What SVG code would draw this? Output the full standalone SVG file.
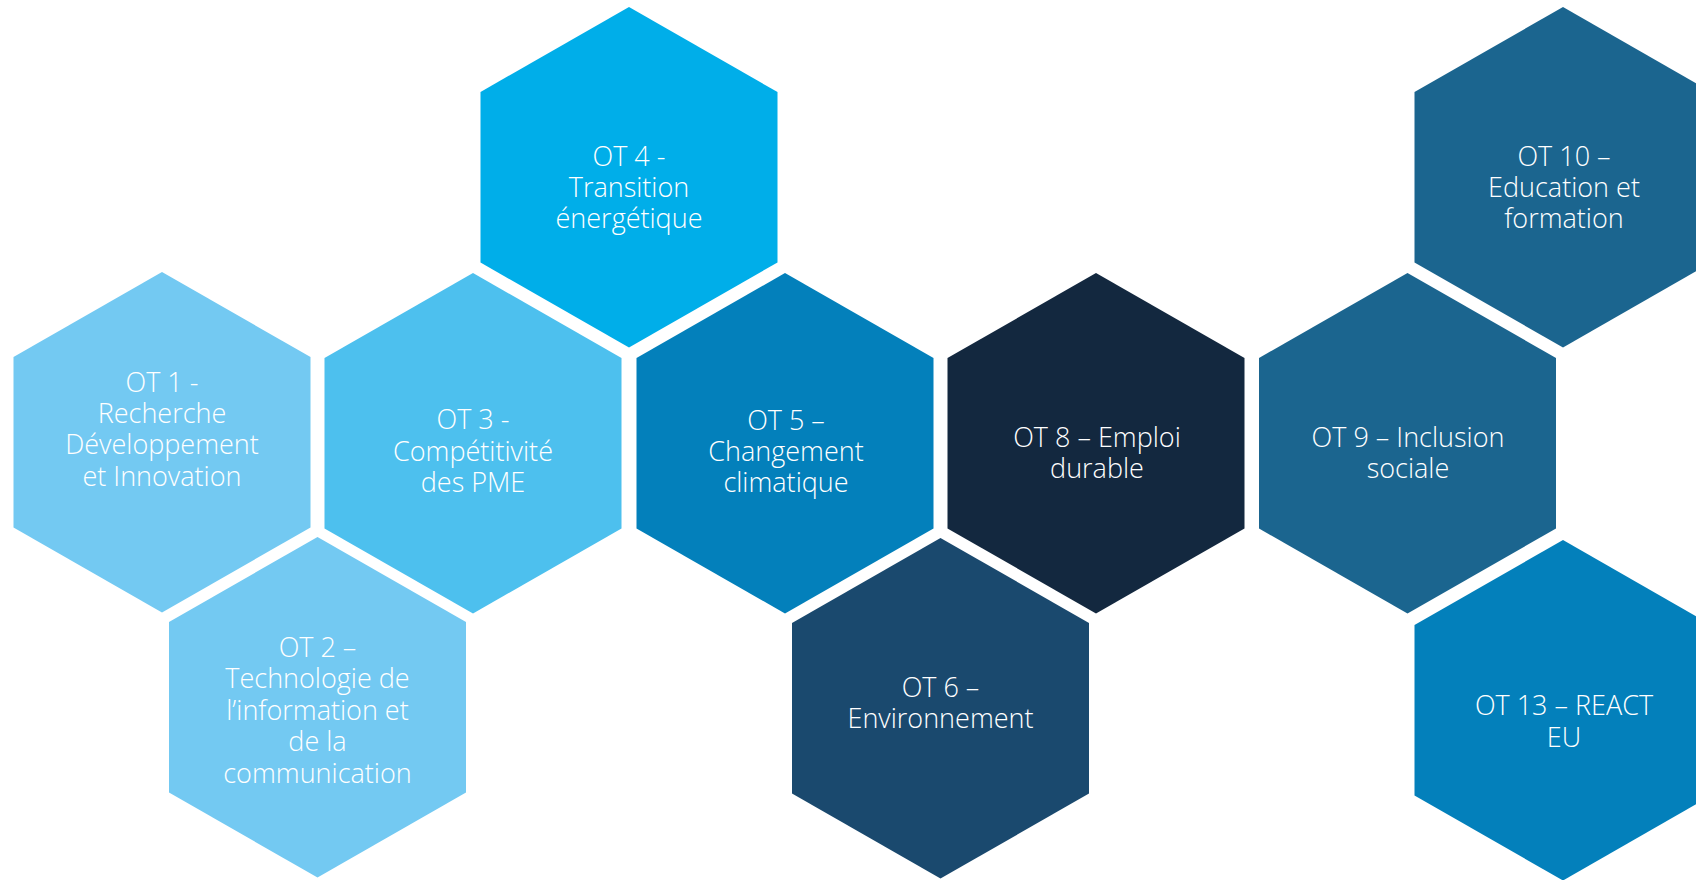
<svg xmlns="http://www.w3.org/2000/svg" width="1696" height="880" viewBox="0 0 1696 880">
  <defs>
    <path id="hex" d="M0,0 L148.5,85 L148.5,255.5 L0,340.5 L-148.5,255.5 L-148.5,85 Z"/>
  </defs>
  <style>
    .t { font-family: "Open Sans", "Noto Sans", "Liberation Sans", sans-serif; font-weight: 300; font-size: 27px; fill: #FFFFFF; text-anchor: middle; }
  </style>
  <rect width="1696" height="880" fill="#FFFFFF"/>
  <g id="connectors"/>
  <g id="ot1">
    <use href="#hex" x="162" y="272" fill="#73C9F2"/>
    <text class="t" x="162"><tspan x="162" y="392">OT 1 -</tspan><tspan x="162" y="423">Recherche</tspan><tspan x="162" y="454">Développement</tspan><tspan x="162" y="486">et Innovation</tspan></text>
  </g>
  <g id="ot2">
    <use href="#hex" x="317.5" y="537" fill="#73C9F2"/>
    <text class="t"><tspan x="317.5" y="657">OT 2 –</tspan><tspan x="317.5" y="688">Technologie de</tspan><tspan x="317.5" y="720">l’information et</tspan><tspan x="317.5" y="751">de la</tspan><tspan x="317.5" y="783">communication</tspan></text>
  </g>
  <g id="ot3">
    <use href="#hex" x="473" y="273" fill="#4DC0EE"/>
    <text class="t"><tspan x="473" y="429">OT 3 -</tspan><tspan x="473" y="461">Compétitivité</tspan><tspan x="473" y="492">des PME</tspan></text>
  </g>
  <g id="ot4">
    <use href="#hex" x="629" y="7" fill="#00AEE9"/>
    <text class="t"><tspan x="629" y="166">OT 4 -</tspan><tspan x="629" y="197">Transition</tspan><tspan x="629" y="228">énergétique</tspan></text>
  </g>
  <g id="ot5">
    <use href="#hex" x="785" y="273" fill="#0380BB"/>
    <text class="t"><tspan x="786" y="430">OT 5 –</tspan><tspan x="786" y="461">Changement</tspan><tspan x="786" y="492">climatique</tspan></text>
  </g>
  <g id="ot6">
    <use href="#hex" x="940.5" y="538" fill="#1A496E"/>
    <text class="t"><tspan x="940.5" y="697">OT 6 –</tspan><tspan x="940.5" y="728">Environnement</tspan></text>
  </g>
  <g id="ot8">
    <use href="#hex" x="1096" y="273" fill="#13283F"/>
    <text class="t"><tspan x="1097" y="447">OT 8 – Emploi</tspan><tspan x="1097" y="478">durable</tspan></text>
  </g>
  <g id="ot9">
    <use href="#hex" x="1407.5" y="273" fill="#1B658F"/>
    <text class="t"><tspan x="1408" y="447">OT 9 – Inclusion</tspan><tspan x="1408" y="478">sociale</tspan></text>
  </g>
  <g id="ot10">
    <use href="#hex" x="1563" y="7" fill="#1B658F"/>
    <text class="t"><tspan x="1564" y="166">OT 10 –</tspan><tspan x="1564" y="197">Education et</tspan><tspan x="1564" y="228">formation</tspan></text>
  </g>
  <g id="ot13">
    <use href="#hex" x="1563" y="540" fill="#0380BB"/>
    <text class="t"><tspan x="1564" y="715">OT 13 – REACT</tspan><tspan x="1564" y="747">EU</tspan></text>
  </g>
</svg>
